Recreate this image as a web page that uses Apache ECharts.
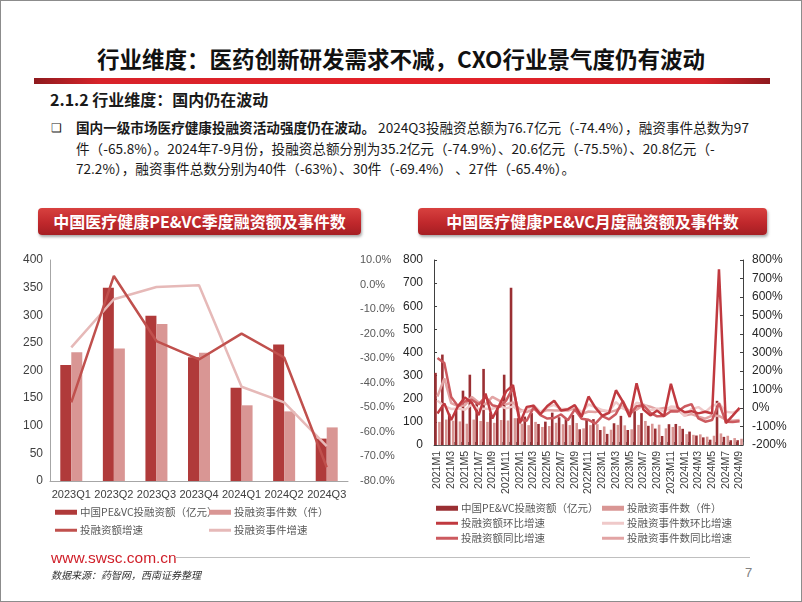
<!DOCTYPE html>
<html><head><meta charset="utf-8">
<script src="https://cdn.jsdelivr.net/npm/echarts@6/dist/echarts.min.js"></script>
<style>
html,body{margin:0;padding:0;background:#fff;}
#slide{position:relative;width:802px;height:602px;overflow:hidden;font-family:"Noto Sans CJK SC","Noto Sans",sans-serif;color:#1a1a1a;}
.abs{position:absolute;white-space:nowrap;}
#frame{position:absolute;left:0;top:0;width:800px;height:600px;border:1px solid #8c8c8c;pointer-events:none;}
#title{left:0;width:802px;top:42px;text-align:center;font-size:22.5px;font-weight:bold;line-height:32px;color:#111;}
#redbar{left:34px;width:736px;top:78px;height:6px;background:linear-gradient(to right,#8e1a1e 0%,#d8232a 9%,#e32129 50%,#d8232a 91%,#8e1a1e 100%);}
#sub{left:50px;top:88px;font-size:16px;font-weight:bold;line-height:22px;}
#bullet{left:51px;top:118px;font-size:12px;line-height:18px;}
.bl{left:76px;font-size:13.6px;line-height:20px;}
.box{position:absolute;height:27px;border-radius:4px;background:linear-gradient(to bottom,#d8413f 0%,#c0282c 55%,#a51e23 100%);box-shadow:1px 2px 3px rgba(0,0,0,0.35);color:#fff;font-weight:bold;font-size:16px;line-height:27px;text-align:center;}
#url{left:51px;top:548px;font-family:Arial,"Liberation Sans",sans-serif;font-size:15.5px;color:#d0202a;line-height:20px;}
#fline{left:175px;top:557px;width:575px;height:0;border-top:1.5px solid #bfbfbf;}
#src{left:51px;top:568px;font-size:10px;font-style:italic;color:#333;line-height:14px;}
#page{left:745px;top:565px;font-family:Arial,"Liberation Sans",sans-serif;font-size:13px;color:#808080;line-height:16px;}
#c1{position:absolute;left:0;top:240px;width:400px;height:320px;}
#c2{position:absolute;left:400px;top:240px;width:402px;height:320px;}
</style></head>
<body>
<div id="slide">
  <div id="title" class="abs">行业维度：医药创新研发需求不减，CXO行业景气度仍有波动</div>
  <div id="redbar" class="abs"></div>
  <div id="sub" class="abs">2.1.2 行业维度：国内仍在波动</div>
  <div id="bullet" class="abs">❑</div>
  <div class="abs bl" style="top:117px;"><b>国内一级市场医疗健康投融资活动强度仍在波动。</b> 2024Q3投融资总额为76.7亿元（-74.4%），融资事件总数为97</div>
  <div class="abs bl" style="top:138px;">件（-65.8%）。2024年7-9月份，投融资总额分别为35.2亿元（-74.9%）、20.6亿元（-75.5%）、20.8亿元（-</div>
  <div class="abs bl" style="top:158px;">72.2%），融资事件总数分别为40件（-63%）、30件（-69.4%） 、27件（-65.4%）。</div>
  <div class="box" style="left:38px;top:208px;width:323px;">中国医疗健康PE&amp;VC季度融资额及事件数</div>
  <div class="box" style="left:418px;top:208px;width:349px;">中国医疗健康PE&amp;VC月度融资额及事件数</div>
  <div id="c1"></div>
  <div id="c2"></div>
  <div id="url" class="abs">www.swsc.com.cn</div>
  <div id="fline" class="abs"></div>
  <div id="src" class="abs">数据来源：药智网，西南证券整理</div>
  <div id="page" class="abs">7</div>
  <div id="frame"></div>
</div>
<script>
// ---------- quarterly chart data ----------
var quarters = ['2023Q1','2023Q2','2023Q3','2023Q4','2024Q1','2024Q2','2024Q3'];
var qAmount = [210, 350, 299, 224, 169, 247, 76.7];
var qCount = [233, 240, 284, 232, 137, 126, 97];
var qAmountGrowth = [-48, 3.5, -23, -30.5, -20, -29.7, -74.4];
var qCountGrowth = [-25.6, -6, -1, -0.3, -41.6, -48, -65.8];

// ---------- monthly chart data ----------
var months = ['2021M1','2021M2','2021M3','2021M4','2021M5','2021M6','2021M7','2021M8','2021M9','2021M10','2021M11','2021M12',
  '2022M1','2022M2','2022M3','2022M4','2022M5','2022M6','2022M7','2022M8','2022M9','2022M10','2022M11','2022M12',
  '2023M1','2023M2','2023M3','2023M4','2023M5','2023M6','2023M7','2023M8','2023M9','2023M10','2023M11','2023M12',
  '2024M1','2024M2','2024M3','2024M4','2024M5','2024M6','2024M7','2024M8','2024M9'];
var mAmount = [312, 391, 135, 150, 235, 304, 185, 329, 140, 160, 304, 680,
  116, 123, 138, 91, 101, 140, 120, 112, 130, 68, 110, 112,
  65, 48, 94, 126, 65, 152, 138, 83, 71, 39, 90, 91,
  70, 58, 41, 33, 23, 191, 35.2, 20.6, 20.8];
var mCount = [100, 110, 105, 102, 92, 110, 104, 100, 96, 108, 106, 116,
  92, 86, 100, 78, 82, 96, 90, 86, 95, 72, 86, 90,
  80, 66, 87, 85, 68, 87, 104, 92, 88, 72, 78, 82,
  47, 44, 46, 36, 40, 50, 40, 30, 27];
var mAmountMoM = [-30, 25, -65, 11, 57, 29, -39, 78, -57, 14, 90, 124,
  -83, 6, 12, -34, 11, 39, -14, -7, 16, -48, 62, 2,
  -42, -26, 96, 34, -48, 134, -9, -40, -14, -45, 131, 1,
  -23, -17, -29, -20, -30, 750, -82, -41, 1];
var mCountMoM = [40, 10, -5, -3, -10, 20, -5, -4, -4, 12, -2, 9,
  -21, -7, 16, -22, 5, 17, -6, -4, 10, -24, 19, 5,
  -11, -18, 32, -2, -20, 28, 20, -12, -4, -18, 8, 5,
  -43, -6, 5, -22, 11, 25, -20, -25, -10];
var mAmountYoY = [270, 243, 60, 10, 35, 45, 20, 60, 15, 5, 40, 110,
  -63, -69, 2, -39, -57, -54, -35, -66, -7, -58, -64, -84,
  -44, -61, -32, 38, -36, 9, 15, -26, -45, -43, -18, -19,
  8, 21, -56, -74, -65, 26, -74.9, -75.5, -72.2];
var mCountYoY = [62, 160, 26, 10, 15, 60, 30, 20, 60, 40, 20, 30,
  -8, -22, -5, -24, -11, -13, -13, -14, -1, -33, -19, -22,
  -13, -23, -13, 9, -17, -9, 16, 7, -7, 0, -9, -9,
  -41, -33, -47, -58, -41, -43, -63, -69.4, -65.4];

var FN = 'Arial, "Liberation Sans", sans-serif';
var LF = '"Noto Sans CJK SC", sans-serif';

function lg(name, left, top, h) {
  return { data: [name], left: left, top: top, padding: 0, itemWidth: 22, itemHeight: h, icon: 'rect',
    selectedMode: false, textStyle: { color: '#595959', fontSize: 10.5, fontFamily: LF, padding: [0, 0, 0, -2] } };
}

var c1 = echarts.init(document.getElementById('c1'), null, { renderer: 'canvas' });
c1.setOption({
  animation: false,
  grid: { left: 50, top: 20, width: 298, height: 221 },
  legend: [
    lg('中国PE&VC投融资额（亿元）', 55, 267, 5),
    lg('投融资事件数（件）', 209, 267, 5),
    lg('投融资额增速', 55, 285, 3),
    lg('投融资事件增速', 209, 285, 3)
  ],
  xAxis: { type: 'category', data: quarters,
    axisLine: { lineStyle: { color: '#a6a6a6', width: 1 } }, axisTick: { show: false },
    axisLabel: { color: '#404040', fontSize: 11, fontFamily: FN, margin: 8, interval: 0 } },
  yAxis: [
    { type: 'value', min: 0, max: 400, interval: 50, splitLine: { show: false },
      axisLine: { show: true, lineStyle: { color: '#a6a6a6' } }, axisTick: { show: false },
      axisLabel: { color: '#404040', fontSize: 12, fontFamily: FN, margin: 7 } },
    { type: 'value', min: -80, max: 10, interval: 10, splitLine: { show: false },
      axisLine: { show: false }, axisTick: { show: false },
      axisLabel: { color: '#595959', fontSize: 11, fontFamily: FN, margin: 12,
        formatter: function (v) { return v.toFixed(1) + '%'; } } }
  ],
  series: [
    { name: '中国PE&VC投融资额（亿元）', type: 'bar', data: qAmount, barWidth: 11, barGap: '0%', itemStyle: { color: '#b03a3a' } },
    { name: '投融资事件数（件）', type: 'bar', data: qCount, barWidth: 11, barGap: '0%', itemStyle: { color: '#d99694' } },
    { name: '投融资事件增速', type: 'line', yAxisIndex: 1, data: qCountGrowth, symbol: 'none',
      lineStyle: { color: '#e6b9b8', width: 2.5 }, itemStyle: { color: '#e6b9b8' } },
    { name: '投融资额增速', type: 'line', yAxisIndex: 1, data: qAmountGrowth, symbol: 'none',
      lineStyle: { color: '#c0504d', width: 2.5 }, itemStyle: { color: '#c0504d' } }
  ]
});

var c2 = echarts.init(document.getElementById('c2'), null, { renderer: 'canvas' });
c2.setOption({
  animation: false,
  grid: { left: 31, top: 20, width: 312, height: 185 },
  legend: [
    lg('中国PE&VC投融资额（亿元）', 36, 263, 5),
    lg('投融资事件数（件）', 202, 263, 5),
    lg('投融资额环比增速', 36, 278, 3),
    lg('投融资事件数环比增速', 202, 278, 3),
    lg('投融资额同比增速', 36, 293, 3),
    lg('投融资事件数同比增速', 202, 293, 3)
  ],
  xAxis: { type: 'category', data: months,
    axisLine: { lineStyle: { color: '#595959', width: 1 } },
    axisTick: { show: true, inside: true, length: 3, interval: 0, lineStyle: { color: '#595959' } },
    axisLabel: { color: '#404040', fontSize: 10.5, fontFamily: FN, rotate: 90, interval: 1, margin: 6 } },
  yAxis: [
    { type: 'value', min: 0, max: 800, interval: 100, splitLine: { show: false },
      axisLine: { show: true, lineStyle: { color: '#404040' } },
      axisTick: { show: true, inside: true, length: 3, lineStyle: { color: '#404040' } },
      axisLabel: { color: '#262626', fontSize: 12, fontFamily: FN, margin: 11 } },
    { type: 'value', min: -200, max: 800, interval: 100, position: 'right', splitLine: { show: false },
      axisLine: { show: true, lineStyle: { color: '#404040' } },
      axisTick: { show: true, inside: true, length: 3, lineStyle: { color: '#404040' } },
      axisLabel: { color: '#262626', fontSize: 12, fontFamily: FN, margin: 9, formatter: '{value}%' } }
  ],
  series: [
    { name: '中国PE&VC投融资额（亿元）', type: 'bar', data: mAmount, barWidth: 2.6, barGap: '50%', itemStyle: { color: '#9a2f33' } },
    { name: '投融资事件数（件）', type: 'bar', data: mCount, barWidth: 2.6, barGap: '50%', itemStyle: { color: '#d99694' } },
    { name: '投融资事件数同比增速', type: 'line', yAxisIndex: 1, data: mCountYoY, symbol: 'none',
      lineStyle: { color: '#e2a4a4', width: 2.5 }, itemStyle: { color: '#e2a4a4' } },
    { name: '投融资事件数环比增速', type: 'line', yAxisIndex: 1, data: mCountMoM, symbol: 'none',
      lineStyle: { color: '#efc9c9', width: 2.5 }, itemStyle: { color: '#efc9c9' } },
    { name: '投融资额同比增速', type: 'line', yAxisIndex: 1, data: mAmountYoY, symbol: 'none',
      lineStyle: { color: '#cc5a5f', width: 2.5 }, itemStyle: { color: '#cc5a5f' } },
    { name: '投融资额环比增速', type: 'line', yAxisIndex: 1, data: mAmountMoM, symbol: 'none',
      lineStyle: { color: '#c0393f', width: 2.5 }, itemStyle: { color: '#c0393f' } }
  ]
});
</script>
</body></html>
